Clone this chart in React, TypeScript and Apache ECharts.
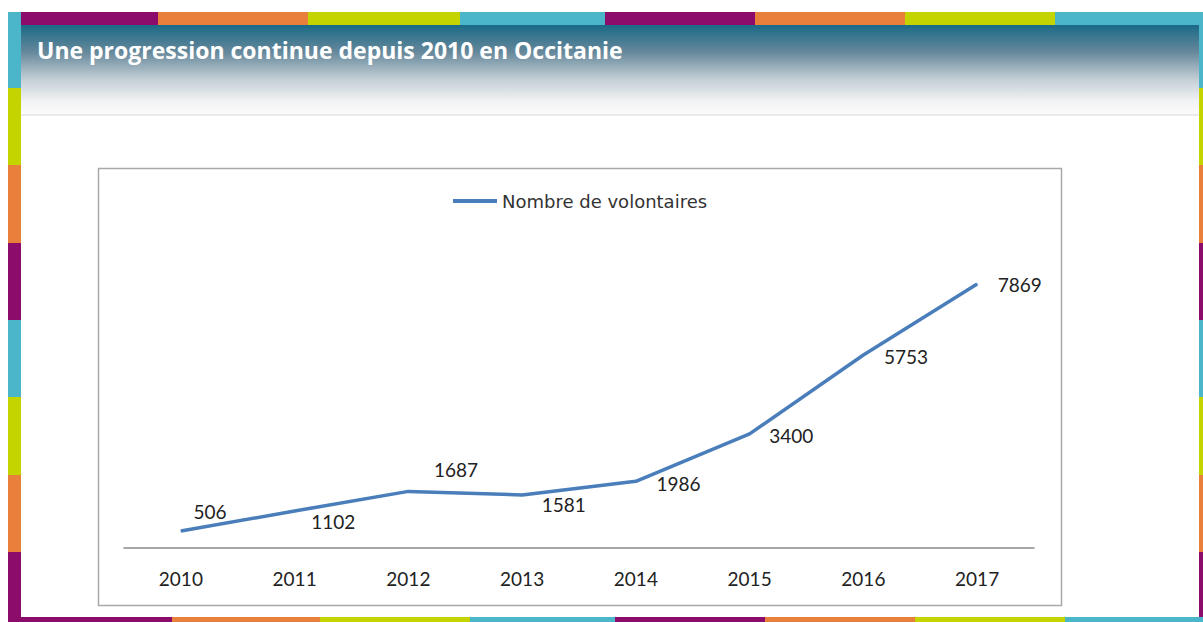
import React, { useEffect, useRef } from "react";
import * as echarts from "echarts";

const TITLE = "Une progression continue depuis 2010 en Occitanie";
const SERIES_NAME = "Nombre de volontaires";
const years = ["2010", "2011", "2012", "2013", "2014", "2015", "2016", "2017"];
const volunteers = [506, 1102, 1687, 1581, 1986, 3400, 5753, 7869];

// label placement (layout only), relative to each point
const labelOffsets: [number, number][] = [
  [12, -20], [16, 10], [25, -22], [19, 10], [20, 2], [19, 2], [20, 2], [20, 1],
];

const PURPLE = "#8c0c6c";
const ORANGE = "#e8803c";
const YELLOW = "#c3d400";
const CYAN = "#4bb6c9";

function hStripe(y: number, h: number, segs: [number, number, string][]) {
  return segs.map(([x0, x1, c]) => ({
    type: "rect", shape: { x: x0, y, width: x1 - x0, height: h }, style: { fill: c }, silent: true,
  }));
}
function vStripe(x: number, w: number, segs: [number, number, string][]) {
  return segs.map(([y0, y1, c]) => ({
    type: "rect", shape: { x, y: y0, width: w, height: y1 - y0 }, style: { fill: c }, silent: true,
  }));
}

export default function App() {
  const ref = useRef<HTMLDivElement>(null);
  useEffect(() => {
    if (!ref.current) return;
    const chart = echarts.init(ref.current, undefined, { renderer: "svg" });
    const graphics: any[] = [
      // header gradient
      {
        type: "rect", shape: { x: 21, y: 25, width: 1179, height: 90 }, silent: true,
        style: {
          fill: new echarts.graphic.LinearGradient(0, 0, 0, 1, [
            { offset: 0, color: "#1a6a87" },
            { offset: 0.3, color: "#66889b" },
            { offset: 0.6, color: "#c2ced5" },
            { offset: 0.85, color: "#f2f3f4" },
            { offset: 1, color: "#fbfbfb" },
          ]),
        },
      },
      { type: "line", shape: { x1: 21, y1: 115, x2: 1200, y2: 115 }, style: { stroke: "#d8d8d8", lineWidth: 1 }, silent: true },
      {
        type: "text", x: 37, y: 50, silent: true,
        style: { text: TITLE, fill: "#ffffff", font: "bold 23px 'Open Sans', sans-serif", textVerticalAlign: "middle" },
      },
      // chart box
      {
        type: "rect", shape: { x: 98.5, y: 168.5, width: 963, height: 437 }, silent: true,
        style: { fill: "none", stroke: "#a8a8a8", lineWidth: 1.5 },
      },
      ...hStripe(12, 13, [
        [20, 158, PURPLE], [158, 308, ORANGE], [308, 460, YELLOW], [460, 605, CYAN],
        [605, 755, PURPLE], [755, 905, ORANGE], [905, 1055, YELLOW], [1055, 1203, CYAN],
      ]),
      ...vStripe(8, 13, [
        [12, 88, CYAN], [88, 165, YELLOW], [165, 243, ORANGE], [243, 320, PURPLE],
        [320, 397, CYAN], [397, 475, YELLOW], [475, 552, ORANGE], [552, 622, PURPLE],
      ]),
      ...vStripe(1199, 4, [
        [25, 88, CYAN], [88, 165, YELLOW], [165, 243, ORANGE], [243, 320, PURPLE],
        [320, 397, CYAN], [397, 475, YELLOW], [475, 552, ORANGE], [552, 617, PURPLE],
      ]),
      ...hStripe(617, 5, [
        [8, 172, PURPLE], [172, 320, ORANGE], [320, 470, YELLOW], [470, 615, CYAN],
        [615, 765, PURPLE], [765, 915, ORANGE], [915, 1065, YELLOW], [1065, 1203, CYAN],
      ]),
    ];
    chart.setOption({
      animation: false,
      backgroundColor: "#ffffff",
      textStyle: { fontFamily: "Lato, 'Noto Sans', sans-serif" },
      graphic: graphics,
      legend: {
        left: 453, top: 192, padding: 0, icon: "rect", itemWidth: 44, itemHeight: 4, itemGap: 10,
        textStyle: { fontSize: 18, color: "#333", fontFamily: "'DejaVu Sans', sans-serif", padding: [0, 0, 0, 0] },
        data: [SERIES_NAME],
      },
      grid: { left: 124, right: 169, top: 246, bottom: 74 },
      xAxis: {
        type: "category", data: years, boundaryGap: true,
        axisLine: { lineStyle: { color: "#8a8a8a", width: 1.5 } },
        axisTick: { show: false },
        axisLabel: { margin: 21, fontSize: 19, color: "#222", fontFamily: "Lato, sans-serif" },
      },
      yAxis: { type: "value", min: 0, max: 9000, show: false, splitLine: { show: false } },
      series: [
        {
          name: SERIES_NAME, type: "line",
          symbol: "circle", symbolSize: 1,
          itemStyle: { color: "#4a7ebb" },
          lineStyle: { color: "#4a7ebb", width: 3.5 },
          data: volunteers.map((v, i) => ({
            value: v,
            label: {
              show: true, position: "right", distance: 0, offset: labelOffsets[i],
              fontSize: 19, color: "#222", fontFamily: "Lato, sans-serif",
            },
          })),
        },
      ],
    });
    return () => chart.dispose();
  }, []);
  return <div ref={ref} style={{ position: "fixed", left: 0, top: 0, width: 1203, height: 622 }} />;
}
